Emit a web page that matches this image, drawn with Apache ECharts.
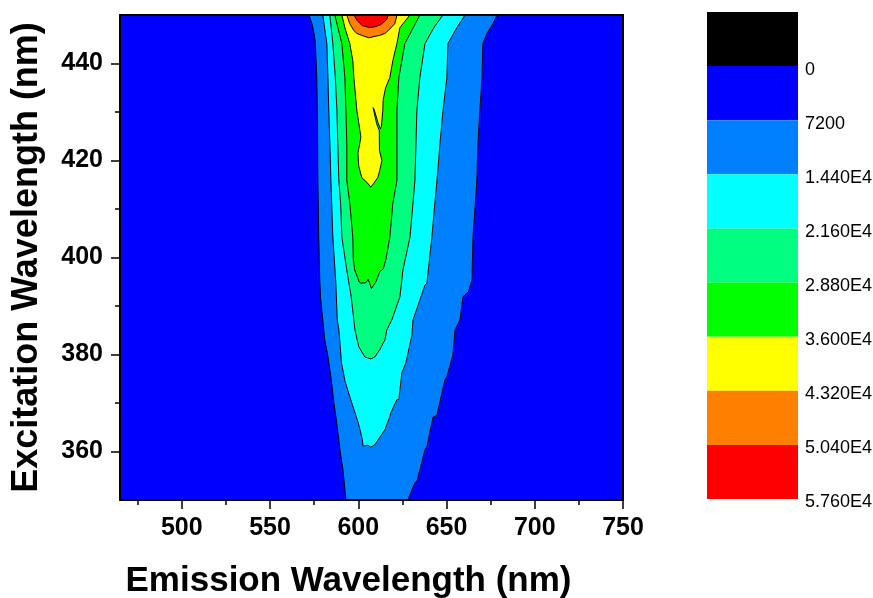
<!DOCTYPE html>
<html><head><meta charset="utf-8">
<script src="https://cdn.jsdelivr.net/npm/echarts@6/dist/echarts.min.js"></script>
<style>html,body{margin:0;padding:0;background:#fff}#c{width:873px;height:598px}</style>
</head><body><div id="c"></div>
<script>
// ---- data ----
const xTicks = [500, 550, 600, 650, 700, 750];
const xMinorTicks = [475, 525, 575, 625, 675, 725];
const yTicks = [360, 380, 400, 420, 440];
const yMinorTicks = [370, 390, 410, 430];
const colorTicks = [0, 7200, 14400, 21600, 28800, 36000, 43200, 50400, 57600];
const colorTickLabels = ['0', '7200', '1.440E4', '2.160E4', '2.880E4', '3.600E4', '4.320E4', '5.040E4', '5.760E4'];
const bandEdges = [-7200, 0, 7200, 14400, 21600, 28800, 36000, 43200, 50400, 57600];

// contour outlines [emission nm, excitation nm]
const contour7200 = [[572.0,450],[573.8,448.2],[575.0,446.2],[575.7,444.1],[576.5,437.1],[576.8,430.3],[577.0,423.5],[577.1,415.9],[577.6,404.2],[578.2,395.3],[578.6,391.9],[579.9,387.1],[581.0,383.0],[582.7,379.9],[584.5,375.4],[586.2,370.0],[587.3,367.2],[589.0,362.4],[589.6,360.4],[591.3,356.3],[592.0,353.8],[593.0,350],
  [628.1,350],[632.1,353.6],[633.2,353.8],[637.8,360.4],[638.9,361.0],[642.3,367.0],[644.6,367.6],[649.1,374.8],[650.2,375.4],[653.6,379.9],[654.8,385.1],[657.6,387.1],[659.3,391.9],[662.5,393.0],[664.4,395.3],[665.0,404.2],[667.2,415.9],[667.8,423.5],[668.9,430.3],[670.1,437.1],[670.6,444.1],[672.9,446.2],[676.3,448.2],[678.6,450]];
const contour14400 = [[579.9,450],[582.2,444.1],[582.8,437.1],[583.3,430.3],[583.9,423.5],[584.5,415.9],[585.6,404.2],[587.3,394.7],[588.1,387.1],[589.0,385.1],[590.5,378.3],[592.5,374.5],[595.2,371.3],[600.0,365.9],[602.0,363.0],[602.8,361.1],[605.4,361.3],[607.1,360.9],[609.4,361.4],
  [615.1,364.5],[617.9,367.2],[618.5,368.0],[621.9,370.7],[623.0,370.7],[624.7,376.2],[627.0,378.3],[630.4,384.0],[631.0,387.1],[637.8,394.3],[638.9,394.7],[641.7,404.2],[643.4,411.2],[645.1,418.0],[646.3,423.5],[648.0,430.3],[650.2,437.1],[650.8,444.1],[655.9,447.4],[660.5,450]];
const contour21600 = [[583.9,450],[585.6,444.1],[587.0,437.1],[587.9,430.3],[588.4,423.5],[589.0,415.9],[590.0,411.2],[590.7,404.2],[593.5,397.4],[596.0,391.9],[597.5,387.1],[598.1,385.1],[600.3,381.6],[603.7,379.5],[607.1,379.1],
  [609.4,379.5],[612.2,381.0],[615.1,383.0],[616.2,385.1],[619.0,387.1],[623.6,391.9],[625.3,397.4],[629.3,404.2],[631.0,411.2],[632.1,415.9],[632.7,423.5],[633.2,430.3],[634.9,437.1],[637.8,444.1],[643.0,447.5],[648.0,450]];
const contour28800 = [[586.7,450],[590.7,444.1],[592.4,437.1],[593.0,430.3],[593.5,423.5],[593.5,415.9],[595.2,411.2],[596.9,404.2],[597.2,399.5],[598.0,397.4],[600.5,395.0],[601.5,394.7],[604.3,394.8],[605.6,395.5],[607.5,393.6],
  [610.0,395.0],[612.2,397.1],[614.1,397.6],[615.6,399.5],[617.9,404.2],[619.6,411.2],[621.9,415.9],[621.9,423.5],[621.9,430.3],[623.0,437.1],[626.4,444.1],[634.9,450]];
const contour36000 = [[590.7,450],[592.4,447.4],[595.2,444.1],[596.9,440.6],[597.5,437.1],[599.2,430.3],[601.5,424.8],[599.8,421.5],[600.3,418.8],[602.0,416.5],[605.4,415.3],[607.1,414.5],
  [608.8,415.3],[611.1,416.5],[612.2,418.0],[613.4,420.0],[612.0,422.1],[611.9,426.2],[610.4,427.6],[608.4,430.9],[609.0,430.5],[611.2,427.8],[612.6,426.5],[613.1,427.0],[613.9,430.3],[614.1,432.5],[615.5,435.0],[617.9,437.1],[619.6,440.6],[621.9,444.1],[623.6,447.4],[629.3,450]];
const contour43200 = [[593.5,450],[595.2,448.2],[597.5,446.8],[599.2,446.2],[602.0,445.8],[606.0,445.3],[609.5,445.6],[612.2,445.8],[615.1,446.2],[617.0,446.8],[620.7,448.2],[621.9,450]];
const contour50400 = [[597.6,450],[599.5,448.8],[602.4,447.8],[606.6,447.4],[609.8,447.6],[612.6,448.0],[616.0,449.0],[617.0,450]];

// ---- style ----
const palette = ['#000000','#0000FF','#0080FF','#00FFFF','#00FF80','#00FF00','#FFFF00','#FF8000','#FF0000'];
const FONT = '"Liberation Sans", Arial, sans-serif';
const contours = [contour7200, contour14400, contour21600, contour28800, contour36000, contour43200, contour50400];
const bands = bandEdges.slice(0, -1).map((lo, i) => [0.5, lo, bandEdges[i + 1]]);

const lineStyle = { color: '#000', width: 2 };
const tickStyle = { color: '#000', width: 1.5 };
const chart = echarts.init(document.getElementById('c'), null, { renderer: 'canvas' });
chart.setOption({
  animation: false,
  backgroundColor: '#ffffff',
  grid: [
    { left: 120, top: 15, width: 503, height: 485, show: true, backgroundColor: palette[1], borderWidth: 0,
      containLabel: false, outerBoundsMode: 'none' },
    { left: 707, top: 12, width: 91, height: 487, show: false, containLabel: false, outerBoundsMode: 'none' }
  ],
  xAxis: [
    { gridIndex: 0, type: 'value', min: 465, max: 750, position: 'bottom', z: 5,
      axisLine: { show: true, onZero: false, lineStyle },
      axisTick: { show: true, length: 9, customValues: xTicks, lineStyle: tickStyle },
      axisLabel: { customValues: xTicks, fontFamily: FONT, fontWeight: 'bold', fontSize: 25, color: '#000', margin: 16 },
      splitLine: { show: false },
      name: 'Emission Wavelength (nm)', nameLocation: 'middle', nameGap: 64,
      nameTextStyle: { fontFamily: FONT, fontWeight: 'bold', fontSize: 35, color: '#000', padding: [0, 46, 0, 0] } },
    { gridIndex: 0, type: 'value', min: 465, max: 750, position: 'bottom', z: 5,
      axisLine: { show: false },
      axisTick: { show: true, length: 5, customValues: xMinorTicks, lineStyle: tickStyle },
      axisLabel: { show: false }, splitLine: { show: false } },
    { gridIndex: 0, type: 'value', min: 465, max: 750, position: 'top', z: 5,
      axisLine: { show: true, onZero: false, lineStyle },
      axisTick: { show: false }, axisLabel: { show: false }, splitLine: { show: false } },
    { gridIndex: 1, type: 'value', min: 0, max: 1, show: false }
  ],
  yAxis: [
    { gridIndex: 0, type: 'value', min: 350, max: 450, position: 'left', z: 5,
      axisLine: { show: true, onZero: false, lineStyle },
      axisTick: { show: true, length: 9, customValues: yTicks, lineStyle: tickStyle },
      axisLabel: { customValues: yTicks, fontFamily: FONT, fontWeight: 'bold', fontSize: 25, color: '#000', margin: 17 },
      splitLine: { show: false },
      name: 'Excitation Wavelength (nm)', nameLocation: 'middle', nameGap: 75,
      nameTextStyle: { fontFamily: FONT, fontWeight: 'bold', fontSize: 36, color: '#000' } },
    { gridIndex: 0, type: 'value', min: 350, max: 450, position: 'left', z: 5,
      axisLine: { show: false },
      axisTick: { show: true, length: 5, customValues: yMinorTicks, lineStyle: tickStyle },
      axisLabel: { show: false }, splitLine: { show: false } },
    { gridIndex: 0, type: 'value', min: 350, max: 450, position: 'right', z: 5,
      axisLine: { show: true, onZero: false, lineStyle },
      axisTick: { show: false }, axisLabel: { show: false }, splitLine: { show: false } },
    { gridIndex: 1, type: 'value', min: -7200, max: 57600, inverse: true, position: 'right',
      axisLine: { show: false }, axisTick: { show: false }, splitLine: { show: false },
      axisLabel: { customValues: colorTicks,
        formatter: v => '{t|' + colorTickLabels[colorTicks.indexOf(v)] + '}',
        rich: { t: { fontFamily: FONT, fontSize: 18, color: '#000', padding: [7, 0, 0, 0] } },
        fontFamily: FONT, fontSize: 18, color: '#000', margin: 7 } }
  ],
  series: [
    { type: 'custom', xAxisIndex: 0, yAxisIndex: 0, clip: true, silent: true, z: 2,
      data: contours.map((c, i) => [607, 400, i]),
      encode: { x: 0, y: 1 },
      renderItem: (params, api) => {
        const pts = contours[params.dataIndex].map(p => api.coord(p));
        return { type: 'polygon', shape: { points: pts },
          style: { fill: palette[params.dataIndex + 2], stroke: '#000', lineWidth: 1 } };
      } },
    { type: 'custom', xAxisIndex: 3, yAxisIndex: 3, silent: true,
      data: bands,
      encode: { x: 0, y: [1, 2] },
      renderItem: (params, api) => {
        const p0 = api.coord([0, api.value(1)]);
        const p1 = api.coord([1, api.value(2)]);
        return { type: 'rect', shape: { x: p0[0], y: p0[1], width: p1[0] - p0[0], height: p1[1] - p0[1] },
          style: { fill: palette[params.dataIndex] } };
      } }
  ]
});
</script></body></html>
